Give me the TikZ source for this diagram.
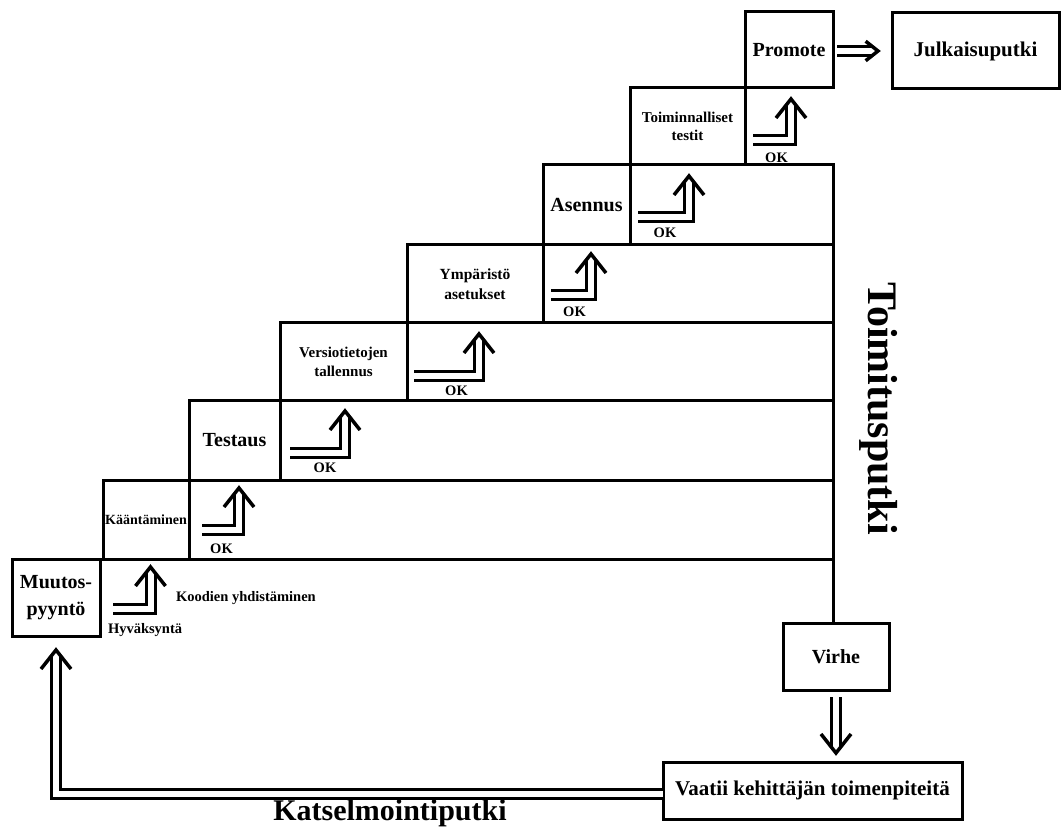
\documentclass[tikz,border=0pt]{standalone}
\usepackage{fontspec}
\setmainfont{Liberation Serif}
\tikzset{
  lw/.style={line width=3pt},
  cell/.style={draw, line width=3pt, rectangle, inner sep=0pt, outer sep=0pt, align=center},
  big/.style={font=\bfseries\fontsize{20}{27}\selectfont},
  mid/.style={font=\bfseries\fontsize{15}{19}\selectfont},
  small/.style={font=\bfseries\fontsize{14.5}{17}\selectfont},
  lbl/.style={inner sep=0pt, outer sep=0pt},
  dbl/.style={line width=3pt, double distance=6pt, double=white},
  chev/.pic={\draw[line width=3.5pt, line cap=butt, line join=miter] (-15,19) -- (0,0) -- (15,19);}
}
\newcommand{\stairarrow}[3]{%
  \draw[dbl] (#1,{#3-4.5}) -- (#2,{#3-4.5}) -- (#2,{#3-40});
  \pic at (#2,{#3-46}) {chev};
}
\begin{document}
\begin{tikzpicture}[x=1pt,y=-1pt]
\fill[white] (0,0) rectangle (1061,829);
\useasboundingbox (0,0) rectangle (1061,829);

% cells
\node[cell, big, minimum width=88pt, minimum height=77pt] (muutos) at (56,597.5) {Muutos-\\pyyntö};
\node[cell, font=\bfseries\fontsize{14}{16}\selectfont, minimum width=86pt, minimum height=79pt] (kaan) at (146,519.5) {Kääntäminen};
\node[cell, big, minimum width=91pt, minimum height=80pt] (test) at (234.5,440) {Testaus};
\node[cell, mid, minimum width=127pt, minimum height=77pt] (versio) at (343.5,361.5) {Versiotietojen\\tallennus};
\node[cell, font=\bfseries\fontsize{15.5}{20}\selectfont, minimum width=136pt, minimum height=78pt] (ymp) at (475,284) {Ympäristö\\asetukset};
\node[cell, big, minimum width=87pt, minimum height=80pt] (asen) at (586.5,205) {Asennus};
\node[cell, font=\bfseries\fontsize{15}{18}\selectfont, minimum width=115pt, minimum height=77pt] (toim) at (687.5,126.5) {Toiminnalliset\\testit};
\node[cell, big, minimum width=88pt, minimum height=76pt] (promote) at (789,50) {Promote};
\node[cell, font=\bfseries\fontsize{21}{25}\selectfont, minimum width=167pt, minimum height=76pt] (julk) at (975.5,51) {Julkaisuputki};
\node[cell, big, minimum width=106pt, minimum height=67pt] (virhe) at (836,656.5) {Virhe};
\node[cell, font=\bfseries\fontsize{21}{25}\selectfont, minimum width=299pt, minimum height=57pt] (vaatii) at (812.5,790.5) {Vaatii kehittäjän toimenpiteitä};

% staircase rows
\coordinate (R) at (833,0);
\draw[lw] (asen.north east) -- (asen.north east -| R) -- (virhe.north -| R);
\foreach \n in {muutos,kaan,test,versio,ymp} \draw[lw] (\n.north east) -- (\n.north east -| R);

% OK arrows
\stairarrow{113}{150.5}{613}
\stairarrow{202}{239}{534}
\stairarrow{290}{345}{457}
\stairarrow{414}{479}{380}
\stairarrow{551}{591}{300}
\stairarrow{638}{689}{222}
\stairarrow{753}{791}{145}

% labels
\node[lbl, small, anchor=west] (koodien) at (176,598) {Koodien yhdistäminen};
\node[lbl, small, anchor=west] (hyv) at (108,630) {Hyväksyntä};
\node[lbl, small] (ok1) at (221.5,549) {OK};
\node[lbl, small] (ok2) at (325,468) {OK};
\node[lbl, small] (ok3) at (456.5,391) {OK};
\node[lbl, small] (ok4) at (574.5,312) {OK};
\node[lbl, small] (ok5) at (665,233) {OK};
\node[lbl, small] (ok6) at (776.5,158) {OK};

% connectors
% Promote -> Julkaisuputki
\path (julk.west |- promote.east) ++(-14,1) coordinate (jtip);
\draw[dbl] ([xshift=4pt,yshift=-1pt]promote.east) -- ([xshift=-6pt]jtip);
\pic[rotate=-90, scale=0.65] at (jtip) {chev};

% Virhe -> Vaatii
\path (vaatii.north -| virhe.south) ++(0,-9) coordinate (vtip);
\draw[dbl] ([yshift=-7pt]virhe.south) -- ([yshift=6pt]vtip);
\pic[rotate=180] at (vtip) {chev};

% Vaatii -> Muutos (review loop)
\path (muutos.south) ++(0,14) coordinate (mtip);
\draw[dbl] ([yshift=-3pt]vaatii.west) -| ([yshift=-6pt]mtip);
\pic at (mtip) {chev};

% pipeline titles
\node[lbl, font=\bfseries\fontsize{42}{46}\selectfont, rotate=-90, anchor=base] (toimitus) at (868,408.5) {Toimitusputki};
\node[lbl, font=\bfseries\fontsize{30}{34}\selectfont, anchor=base] (katsel) at (390,820) {Katselmointiputki};
\end{tikzpicture}
\end{document}
